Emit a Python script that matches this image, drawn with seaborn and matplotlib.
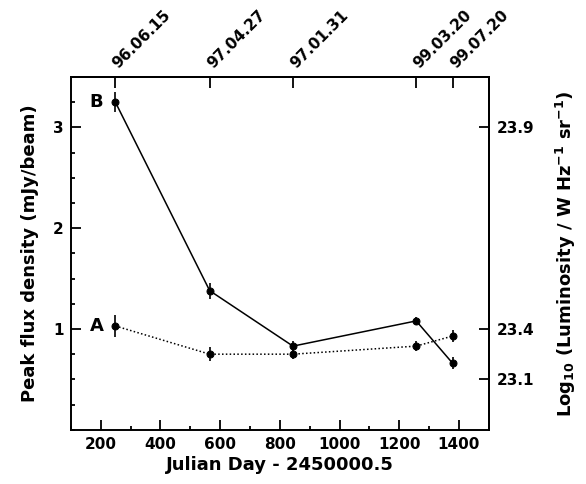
import matplotlib
matplotlib.use("Agg")
import matplotlib.pyplot as plt
from matplotlib.ticker import MultipleLocator
import seaborn as sns
import pandas as pd

# epochs (Julian Day - 2450000.5) and the dates written on top
days = [249, 565, 844, 1257, 1379]
dates = ['96.06.15', '97.04.27', '97.01.31', '99.03.20', '99.07.20']

# peak flux density (mJy/beam) of the two components, with errors
flux_a = [1.03, 0.75, 0.75, 0.83, 0.93]
err_a = [0.11, 0.07, 0.05, 0.05, 0.06]
flux_b = [3.25, 1.38, 0.83, 1.08, 0.66]
err_b = [0.10, 0.08, 0.05, 0.04, 0.06]

# right axis: log10 luminosity labels and the flux they sit at
lum_flux = [0.5, 1.0, 3.0]
lum_labels = ['23.1', '23.4', '23.9']

sns.set_style('ticks')
plt.rcParams['font.family'] = ['DejaVu Sans']
plt.rcParams['font.weight'] = 'bold'
plt.rcParams['mathtext.default'] = 'bf'
plt.rcParams['axes.linewidth'] = 1.4
for key in ['text.color', 'axes.labelcolor', 'axes.edgecolor',
            'xtick.color', 'ytick.color']:
    plt.rcParams[key] = 'black'

df = pd.DataFrame({'day': days * 2,
                   'flux': flux_a + flux_b,
                   'comp': ['A'] * 5 + ['B'] * 5})

fig = plt.figure(figsize=(5.86, 4.84), dpi=100)
ax = fig.add_axes([0.121, 0.112, 0.713, 0.729])

sns.lineplot(data=df, x='day', y='flux', hue='comp', style='comp',
             palette={'A': 'black', 'B': 'black'},
             dashes={'A': (1, 1.5), 'B': ''}, markers={'A': 'o', 'B': 'o'},
             markersize=5, markeredgecolor='black', linewidth=1.1,
             sort=False, legend=False, ax=ax)
ax.errorbar(days, flux_a, yerr=err_a, fmt='none', ecolor='black', elinewidth=1.2)
ax.errorbar(days, flux_b, yerr=err_b, fmt='none', ecolor='black', elinewidth=1.2)

ax.text(days[0] - 40, flux_b[0], 'B', fontsize=13, fontweight='bold',
        ha='right', va='center')
ax.text(days[0] - 40, flux_a[0], 'A', fontsize=13, fontweight='bold',
        ha='right', va='center')

ax.set_xlim(100, 1500)
ax.set_ylim(0, 3.5)
ax.xaxis.set_major_locator(MultipleLocator(200))
ax.xaxis.set_minor_locator(MultipleLocator(100))
ax.set_yticks([1, 2, 3])
ax.yaxis.set_minor_locator(MultipleLocator(0.25))
ax.tick_params(which='both', direction='in', labelsize=11, top=False, right=False)
ax.tick_params(which='major', length=7, width=1.3, pad=5)
ax.tick_params(which='minor', length=3, width=1.3)
ax.set_xlabel('Julian Day - 2450000.5', fontsize=13, fontweight='bold', labelpad=3)
ax.set_ylabel('Peak flux density (mJy/beam)', fontsize=13, fontweight='bold', labelpad=10)

top = ax.secondary_xaxis('top')
top.set_xticks(days)
top.set_xticklabels(dates, rotation=45, ha='left', va='center',
                    rotation_mode='anchor', fontsize=11, fontweight='bold')
top.tick_params(direction='in', length=8, width=1.3, pad=8)

right = ax.secondary_yaxis('right')
right.set_yticks(lum_flux)
right.set_yticklabels(lum_labels, fontsize=11, fontweight='bold')
right.tick_params(direction='in', length=7, width=1.3, pad=6)
right.set_ylabel('Log$_{10}$ (Luminosity / W Hz$^{-1}$ sr$^{-1}$)',
                 fontsize=13, fontweight='bold', labelpad=14)

fig.savefig('out.png', dpi=100)
